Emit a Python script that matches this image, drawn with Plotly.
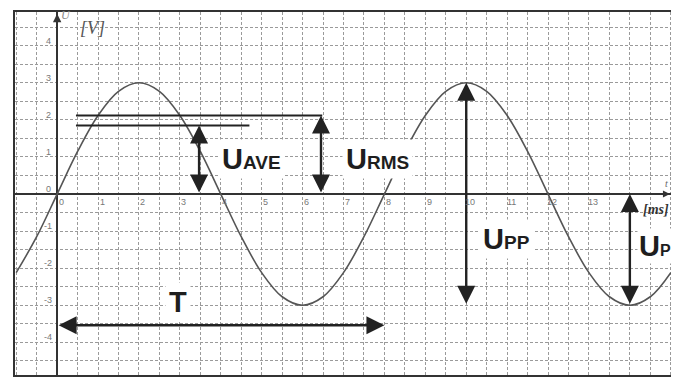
import plotly.graph_objects as go

# ---- data ----
t_ms = [-1, -0.5, 0, 0.5, 1, 1.5, 2, 2.5, 3, 3.5, 4, 4.5, 5, 5.5, 6, 6.5, 7, 7.5,
        8, 8.5, 9, 9.5, 10, 10.5, 11, 11.5, 12, 12.5, 13, 13.5, 14, 14.5, 15]
u_volts = [-2.12, -1.15, 0, 1.15, 2.12, 2.77, 3, 2.77, 2.12, 1.15, 0, -1.15, -2.12,
           -2.77, -3, -2.77, -2.12, -1.15, 0, 1.15, 2.12, 2.77, 3, 2.77, 2.12, 1.15,
           0, -1.15, -2.12, -2.77, -3, -2.77, -2.12]

x_tick_vals = [0, 1, 2, 3, 4, 5, 6, 7, 8, 9, 10, 11, 12, 13]
x_tick_text = ["0", "1", "2", "3", "4", "5", "6", "7", "8", "9", "10", "11", "12", "13"]
y_tick_vals = [-4, -3, -2, -1, 0, 1, 2, 3, 4]
y_tick_text = ["-4", "-3", "-2", "-1", "0", "1", "2", "3", "4"]

u_peak = 3.0          # V
u_rms = 2.12          # V
u_ave = 1.85          # V
period = 8.0          # ms
t_peak_pp = 10.0      # ms
t_trough_p = 14.0     # ms
t_ave_arrow = 3.47
t_rms_arrow = 6.45
rms_line_t = [0.46, 6.48]
ave_line_t = [0.46, 4.7]
t_arrow_level = -3.54

fig = go.Figure()

fig.add_trace(go.Scatter(x=t_ms, y=u_volts, mode="lines",
                         line=dict(color="#555555", width=1.6, shape="spline", smoothing=1.0),
                         hoverinfo="skip", showlegend=False))

fig.add_trace(go.Scatter(x=rms_line_t, y=[u_rms, u_rms], mode="lines",
                         line=dict(color="#222222", width=2), showlegend=False))
fig.add_trace(go.Scatter(x=ave_line_t, y=[u_ave, u_ave], mode="lines",
                         line=dict(color="#222222", width=2), showlegend=False))


def darrow(x0, y0, x1, y1):
    fig.add_annotation(x=x1, y=y1, ax=x0, ay=y0, xref="x", yref="y", axref="x", ayref="y",
                       showarrow=True, arrowhead=2, startarrowhead=2, arrowside="end+start",
                       arrowsize=1.5, startarrowsize=1.5, arrowwidth=2.4,
                       arrowcolor="#222222", text="")


darrow(t_ave_arrow, 0, t_ave_arrow, u_ave)
darrow(t_rms_arrow, 0, t_rms_arrow, u_rms)
darrow(t_peak_pp, -u_peak, t_peak_pp, u_peak)
darrow(t_trough_p, -u_peak, t_trough_p, 0)
darrow(0, t_arrow_level, period, t_arrow_level)

# axis arrows
fig.add_annotation(x=0, y=4.86, ax=0, ay=4.5, xref="x", yref="y", axref="x", ayref="y",
                   showarrow=True, arrowhead=2, arrowsize=1.2, arrowwidth=1.4,
                   arrowcolor="#333333", text="")
fig.add_annotation(x=14.98, y=0, ax=14.6, ay=0, xref="x", yref="y", axref="x", ayref="y",
                   showarrow=True, arrowhead=2, arrowsize=1.0, arrowwidth=1.4,
                   arrowcolor="#333333", text="")

big = dict(family="Liberation Sans, Arial, sans-serif", size=29, color="#1e1e1e")


def label(x, y, main, sub, xanchor="left", subsize=19, pad=3):
    txt = "<b>" + main + ("<span style='font-size:%dpx'>%s</span>" % (subsize, sub) if sub else "") + "</b>"
    fig.add_annotation(x=x, y=y, xref="x", yref="y", text=txt, showarrow=False,
                       xanchor=xanchor, yanchor="middle", font=big,
                       bgcolor="white", borderpad=pad)


label(3.92, 0.95, "U", "AVE")
label(6.97, 0.95, "U", "RMS")
label(10.32, -1.2, "U", "PP")
label(14.18, -1.4, "U", "P", subsize=16, pad=1)
label(2.96, -2.92, "T", "", xanchor="center")

# tick labels
for v, s in zip(x_tick_vals, x_tick_text):
    fig.add_annotation(x=v, y=0, xref="x", yref="y", text=s, showarrow=False,
                       xshift=4, yshift=-8, font=dict(family="Liberation Sans", size=9, color="#777777"))
for v, s in zip(y_tick_vals, y_tick_text):
    fig.add_annotation(x=0, y=v, xref="x", yref="y", text=s, showarrow=False,
                       xshift=-9, yshift=5, font=dict(family="Liberation Sans", size=9, color="#777777"))

# axis names
fig.add_annotation(x=0.22, y=4.82, xref="x", yref="y", text="<i>U</i>", showarrow=False,
                   font=dict(family="Liberation Serif", size=12, color="#888888"))
fig.add_annotation(x=0.86, y=4.48, xref="x", yref="y", text="<i>[V]</i>", showarrow=False,
                   font=dict(family="Liberation Serif", size=18, color="#555555"))
fig.add_annotation(x=14.9, y=0.28, xref="x", yref="y", text="<i>t</i>", showarrow=False,
                   font=dict(family="Liberation Serif", size=10, color="#666666"))
fig.add_annotation(x=14.64, y=-0.41, xref="x", yref="y", text="<b><i>[ms]</i></b>", showarrow=False,
                   font=dict(family="Liberation Serif", size=14, color="#333333"))

grid_common = dict(showline=True, mirror=True, linecolor="#333333", linewidth=2,
                   zeroline=True, zerolinecolor="#333333", zerolinewidth=1.5,
                   showticklabels=False, ticks="", showgrid=True,
                   gridcolor="#9a9a9a", griddash="3px,2px", gridwidth=1, fixedrange=True)

fig.update_xaxes(range=[-1.03, 15.03], tick0=0, dtick=0.5, **grid_common)
fig.update_yaxes(range=[-4.88, 4.91], tick0=0, dtick=0.5, **grid_common)

# the page body adds an 8px margin, so the figure is sized to fit the window
fig.update_layout(width=671, height=373, margin=dict(l=7, r=7, t=2, b=6),
                  paper_bgcolor="white", plot_bgcolor="white", showlegend=False)

fig.write_html("out.html")
